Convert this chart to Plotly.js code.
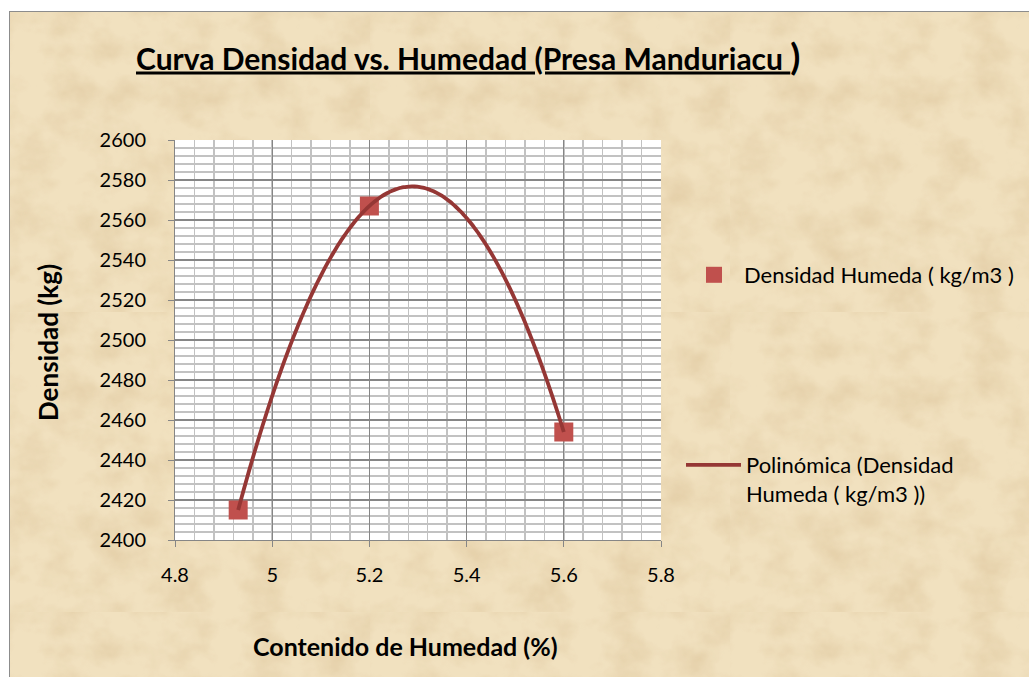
<!DOCTYPE html>
<html>
<head>
<meta charset="utf-8">
<script src="https://cdn.plot.ly/plotly-3.0.1.min.js"></script>
<style>
  html, body { margin: 0; padding: 0; background: #ffffff; width: 1029px; height: 677px; overflow: hidden; }
  #frame {
    position: absolute; left: 9px; top: 11px; width: 1020px; height: 666px;
    border-left: 1px solid #8c8c8c; border-top: 1px solid #8c8c8c; box-sizing: border-box;
    background-color: #f1e1bf;
    background-image: url("data:image/svg+xml;utf8,<svg xmlns='http://www.w3.org/2000/svg' width='360' height='300'><filter id='n'><feTurbulence type='fractalNoise' baseFrequency='0.025 0.03' numOctaves='4' seed='11'/><feColorMatrix values='0 0 0 0 0.74  0 0 0 0 0.58  0 0 0 0 0.35  0 0 0 1.3 -0.5'/></filter><rect width='360' height='300' filter='url(%23n)'/></svg>");
    background-size: 360px 300px;
  }
  #chart { position: absolute; left: 0; top: 0; width: 1019px; height: 665px; }
</style>
</head>
<body>
<div id="frame"><div id="chart"></div></div>
<script>
// ---- data ----
const humedad = [4.93, 5.20, 5.60];          // Contenido de Humedad (%)
const densidad = [2415, 2567, 2454];          // Densidad Humeda (kg/m3)
const seriesName = 'Densidad Humeda ( kg/m3 )';
const trendName = 'Polinómica (Densidad<br>Humeda ( kg/m3 ))';
const xTicks = [4.8, 5, 5.2, 5.4, 5.6, 5.8];
const yTicks = [2400, 2420, 2440, 2460, 2480, 2500, 2520, 2540, 2560, 2580, 2600];

// ---- order-2 polynomial trendline (least squares, as Excel does) ----
function polyfit2(xs, ys) {
  let s = [0,0,0,0,0], t = [0,0,0];
  for (let i = 0; i < xs.length; i++) {
    let p = 1;
    for (let k = 0; k < 5; k++) { s[k] += p; p *= xs[i]; }
    t[0] += ys[i]; t[1] += ys[i]*xs[i]; t[2] += ys[i]*xs[i]*xs[i];
  }
  const M = [[s[0],s[1],s[2],t[0]],[s[1],s[2],s[3],t[1]],[s[2],s[3],s[4],t[2]]];
  for (let i = 0; i < 3; i++) {
    for (let j = i+1; j < 3; j++) {
      const f = M[j][i]/M[i][i];
      for (let k = i; k < 4; k++) M[j][k] -= f*M[i][k];
    }
  }
  const c = [0,0,0];
  for (let i = 2; i >= 0; i--) {
    let v = M[i][3];
    for (let k = i+1; k < 3; k++) v -= M[i][k]*c[k];
    c[i] = v/M[i][i];
  }
  return c;
}
const coef = polyfit2(humedad, densidad);
const xmin = Math.min(...humedad), xmax = Math.max(...humedad);
const trendX = [], trendY = [];
for (let i = 0; i <= 120; i++) {
  const x = xmin + (xmax - xmin) * i / 120;
  trendX.push(x);
  trendY.push(coef[0] + coef[1]*x + coef[2]*x*x);
}

const FONT = 'Lato, "Open Sans", sans-serif';
const W = 1019, H = 665;
// plot area inside the frame (pixels)
const PL = 165, PR = 651, PT = 128, PB = 528;
const px2paperX = p => (p - PL) / (PR - PL);
const px2paperY = p => (PB - p) / (PB - PT);

const traces = [
  {
    x: humedad, y: densidad, type: 'scatter', mode: 'markers', name: seriesName,
    marker: { symbol: 'square', size: 19, color: '#c0504d', line: { width: 0 } },
    legend: 'legend', cliponaxis: false
  },
  {
    x: trendX, y: trendY, type: 'scatter', mode: 'lines', name: trendName,
    line: { color: '#953735', width: 3.8, shape: 'spline' },
    legend: 'legend2'
  }
];

const layout = {
  width: W, height: H,
  paper_bgcolor: 'rgba(0,0,0,0)',
  plot_bgcolor: '#ffffff',
  margin: { l: PL, r: W - PR, t: PT, b: H - PB },
  font: { family: FONT, size: 20, color: '#000000' },
  title: {
    text: '<b><u>Curva Densidad vs. Humedad (Presa Manduriacu </u><span style="font-size:37px">)</span></b>',
    font: { family: FONT, size: 30, color: '#000000' },
    xref: 'container', yref: 'container', x: 126/W, xanchor: 'left', y: 1 - 47/H, yanchor: 'middle'
  },
  xaxis: {
    range: [4.8, 5.8], tickvals: xTicks, ticktext: xTicks.map(String),
    showline: true, linecolor: '#868686', linewidth: 1,
    ticks: 'outside', ticklen: 6, tickcolor: '#868686', ticklabelstandoff: 11,
    showgrid: true, gridcolor: '#868686', gridwidth: 1.3,
    minor: { dtick: 0.04, showgrid: true, gridcolor: '#c2c2c2', gridwidth: 1.5, ticks: '' },
    zeroline: false, tickfont: { size: 20 }, fixedrange: true
  },
  yaxis: {
    range: [2400, 2600], tickvals: yTicks, ticktext: yTicks.map(String),
    showline: true, linecolor: '#868686', linewidth: 1,
    ticks: 'outside', ticklen: 6, tickcolor: '#868686', ticklabelstandoff: 18,
    showgrid: true, gridcolor: '#868686', gridwidth: 1.3,
    minor: { dtick: 4, showgrid: true, gridcolor: '#c2c2c2', gridwidth: 1.5, ticks: '' },
    zeroline: false, tickfont: { size: 20 }, fixedrange: true
  },
  showlegend: true,
  legend: {
    xref: 'container', yref: 'container', x: 674/W, y: 1 - 263/H,
    xanchor: 'left', yanchor: 'middle', bgcolor: 'rgba(0,0,0,0)',
    font: { family: FONT, size: 22, color: '#000' }, itemwidth: 50
  },
  legend2: {
    xref: 'container', yref: 'container', x: 671/W, y: 1 - 432/H,
    xanchor: 'left', yanchor: 'top', valign: 'top', bgcolor: 'rgba(0,0,0,0)',
    font: { family: FONT, size: 22, color: '#000' }, itemwidth: 55
  },
  annotations: [
    {
      text: '<b>Densidad (kg)</b>', xref: 'paper', yref: 'paper',
      x: px2paperX(38), y: px2paperY(331), textangle: -90, showarrow: false,
      font: { family: FONT, size: 26, color: '#000' }, xanchor: 'center', yanchor: 'middle'
    },
    {
      text: '<b>Contenido de Humedad (%)</b>', xref: 'paper', yref: 'paper',
      x: px2paperX(395), y: px2paperY(634), showarrow: false,
      font: { family: FONT, size: 25, color: '#000' }, xanchor: 'center', yanchor: 'middle'
    }
  ]
};

Plotly.newPlot('chart', traces, layout, { displayModeBar: false, staticPlot: true });
</script>
</body>
</html>
